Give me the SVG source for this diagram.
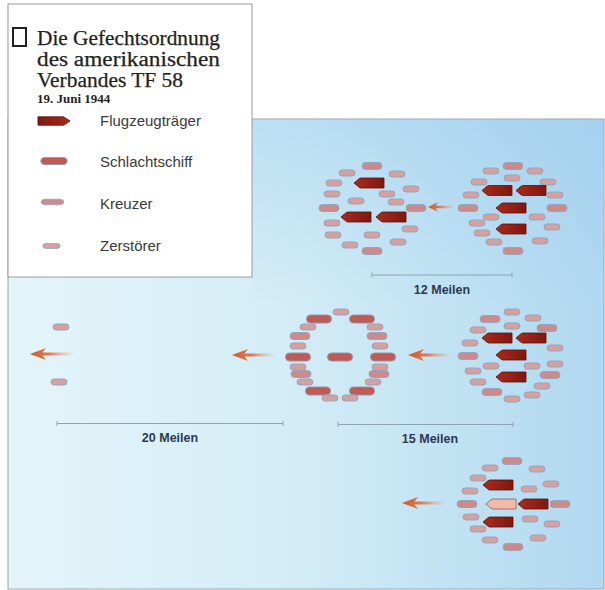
<svg xmlns="http://www.w3.org/2000/svg" width="605" height="590" viewBox="0 0 605 590">
<style>
.sans{font-family:"Liberation Sans",Arial,sans-serif}
.serif{font-family:"Liberation Serif","Times New Roman",serif;fill:#231f20}
.title{font-size:20px;stroke:#231f20;stroke-width:0.25}
.leg{font-size:15px;fill:#3a3a3a}
.scale{font-size:12.5px;font-weight:bold;fill:#2b3a50;text-anchor:middle}
.bar{stroke:#8ea3b6;stroke-width:1;fill:none}
.d{fill:#d6a09f;stroke:#97a5bc;stroke-width:1}
.c{fill:#cb8b8c;stroke:#97a5bc;stroke-width:1}
.b{fill:#c05a54;stroke:#8f95ad;stroke-width:1}
.v{fill:url(#cvg);stroke:#5e100b;stroke-width:0.8}
.vl{fill:#f0bba9;stroke:#9c5c52;stroke-width:0.8}
.arr{fill:url(#arg)}
</style>
<defs>
<linearGradient id="bg" x1="0" y1="0" x2="1" y2="0">
<stop offset="0" stop-color="#e4f5f9"/>
<stop offset="0.5" stop-color="#d2ecf6"/>
<stop offset="1" stop-color="#b0d8f0"/>
</linearGradient>
<linearGradient id="bgv" x1="0" y1="0" x2="0" y2="1">
<stop offset="0" stop-color="#8cc4ec" stop-opacity="0.35"/>
<stop offset="0.4" stop-color="#8cc4ec" stop-opacity="0"/>
</linearGradient>
<linearGradient id="cvg" x1="0" y1="0" x2="1" y2="0">
<stop offset="0" stop-color="#a82a1c"/>
<stop offset="1" stop-color="#801710"/>
</linearGradient>
<linearGradient id="arg" x1="0" y1="0" x2="1" y2="0">
<stop offset="0" stop-color="#d3562a"/>
<stop offset="0.45" stop-color="#dc7446" stop-opacity="0.9"/>
<stop offset="1" stop-color="#f0a878" stop-opacity="0"/>
</linearGradient>
<rect id="sd" x="-8" y="-3" width="16" height="6" rx="3"/>
<rect id="sc" x="-10" y="-3.5" width="20" height="7" rx="3.5"/>
<rect id="sb" x="-12.5" y="-4" width="25" height="8" rx="4"/>
<path id="sv" d="M-15,0 L-10,-4.2 L-8.5,-5 H15 V5 H-8.5 L-10,4.2 Z"/>
<path id="ah" d="M0,0 L16,-6 L12.5,-1.5 L45,-1.5 L45,1.5 L12.5,1.5 L16,6 Z"/>
</defs>

<!-- sea background -->
<rect x="8" y="119" width="596" height="470" fill="url(#bg)" stroke="#9aa6ae" stroke-width="1"/>
<rect x="252" y="119" width="352" height="470" fill="url(#bgv)"/>

<!-- legend -->
<g id="legend">
<rect x="8" y="4" width="244" height="273" fill="#ffffff" stroke="#9a9a9a" stroke-width="1"/>
<rect x="13" y="28" width="13" height="18" fill="none" stroke="#231f20" stroke-width="2"/>
<text class="serif title" x="37" y="45" textLength="183" lengthAdjust="spacingAndGlyphs">Die Gefechtsordnung</text>
<text class="serif title" x="37" y="66" textLength="183" lengthAdjust="spacingAndGlyphs">des amerikanischen</text>
<text class="serif title" x="37" y="87" textLength="146" lengthAdjust="spacingAndGlyphs">Verbandes TF 58</text>
<text class="serif" font-size="13" font-weight="bold" x="37" y="103">19. Juni 1944</text>
<use href="#sv" class="v" transform="translate(54,121) scale(-1.07,0.85)"/>
<text class="sans leg" x="100" y="126">Flugzeugträger</text>
<use href="#sb" class="b" transform="translate(54,161) scale(1.05,0.9)"/>
<text class="sans leg" x="100" y="167">Schlachtschiff</text>
<use href="#sc" class="c" transform="translate(52.5,202) scale(1.1,0.8)"/>
<text class="sans leg" x="100" y="209">Kreuzer</text>
<use href="#sd" class="d" transform="translate(51.5,246) scale(1.05,0.8)"/>
<text class="sans leg" x="100" y="251">Zerstörer</text>
</g>

<!-- formation 1 -->
<g id="formation-1">
<use href="#sc" class="c" x="372" y="166"/>
<use href="#sd" class="d" x="347" y="173"/>
<use href="#sd" class="d" x="397" y="174"/>
<use href="#sd" class="d" x="334" y="183"/>
<use href="#sv" class="v" x="369" y="183"/>
<use href="#sd" class="d" x="332" y="194"/>
<use href="#sd" class="d" x="387" y="194"/>
<use href="#sd" class="d" x="411" y="189"/>
<use href="#sd" class="d" x="356" y="201"/>
<use href="#sd" class="d" x="396" y="202"/>
<use href="#sc" class="c" x="329" y="208"/>
<use href="#sc" class="c" x="416" y="208"/>
<use href="#sv" class="v" x="356" y="217"/>
<use href="#sv" class="v" x="391" y="217"/>
<use href="#sd" class="d" x="332" y="223"/>
<use href="#sd" class="d" x="410" y="229"/>
<use href="#sd" class="d" x="333" y="235"/>
<use href="#sd" class="d" x="372" y="235"/>
<use href="#sd" class="d" x="350" y="245"/>
<use href="#sd" class="d" x="398" y="242"/>
<use href="#sc" class="c" x="372" y="251"/>
</g>

<!-- formation 2 -->
<g id="formation-2">
<use href="#sc" class="c" x="513" y="166"/>
<use href="#sd" class="d" x="491" y="171"/>
<use href="#sd" class="d" x="535" y="171"/>
<use href="#sd" class="d" x="479" y="182"/>
<use href="#sd" class="d" x="512" y="178"/>
<use href="#sd" class="d" x="548" y="182"/>
<use href="#sv" class="v" x="497" y="190.5"/>
<use href="#sv" class="v" x="531" y="190.5"/>
<use href="#sd" class="d" x="471" y="195"/>
<use href="#sd" class="d" x="555" y="195"/>
<use href="#sc" class="c" x="468" y="208"/>
<use href="#sc" class="c" x="557" y="208"/>
<use href="#sv" class="v" x="511" y="208"/>
<use href="#sd" class="d" x="491" y="217"/>
<use href="#sd" class="d" x="537" y="217"/>
<use href="#sd" class="d" x="477" y="223"/>
<use href="#sd" class="d" x="552" y="227"/>
<use href="#sv" class="v" x="511" y="229"/>
<use href="#sd" class="d" x="482" y="233"/>
<use href="#sd" class="d" x="494" y="242"/>
<use href="#sd" class="d" x="540" y="241"/>
<use href="#sc" class="c" x="513" y="251"/>
</g>

<!-- formation 3 (battleships) -->
<g id="formation-3">
<use href="#sd" class="d" x="341" y="312"/>
<use href="#sb" class="b" x="319" y="319"/>
<use href="#sb" class="b" x="362" y="319"/>
<use href="#sd" class="d" x="308" y="327"/>
<use href="#sd" class="d" x="375" y="327"/>
<use href="#sc" class="c" x="300" y="336"/>
<use href="#sc" class="c" x="377" y="336"/>
<use href="#sd" class="d" x="298" y="346"/>
<use href="#sd" class="d" x="380" y="346"/>
<use href="#sb" class="b" x="298" y="357"/>
<use href="#sb" class="b" x="340" y="357"/>
<use href="#sb" class="b" x="383" y="357"/>
<use href="#sd" class="d" x="298" y="367"/>
<use href="#sd" class="d" x="380" y="367"/>
<use href="#sc" class="c" x="301" y="374"/>
<use href="#sc" class="c" x="379" y="374"/>
<use href="#sd" class="d" x="305" y="382"/>
<use href="#sd" class="d" x="373" y="382"/>
<use href="#sb" class="b" x="318" y="391"/>
<use href="#sb" class="b" x="362" y="391"/>
<use href="#sd" class="d" x="330" y="398"/>
<use href="#sd" class="d" x="350" y="398"/>
</g>

<!-- formation 4 -->
<g id="formation-4">
<use href="#sd" class="d" x="512" y="312"/>
<use href="#sc" class="c" x="490" y="319"/>
<use href="#sd" class="d" x="533" y="318"/>
<use href="#sd" class="d" x="478" y="330"/>
<use href="#sd" class="d" x="512" y="326"/>
<use href="#sc" class="c" x="547" y="328"/>
<use href="#sv" class="v" x="497" y="338"/>
<use href="#sv" class="v" x="531" y="338"/>
<use href="#sd" class="d" x="470" y="343"/>
<use href="#sd" class="d" x="555" y="348"/>
<use href="#sc" class="c" x="468" y="356"/>
<use href="#sv" class="v" x="511" y="355"/>
<use href="#sd" class="d" x="491" y="366"/>
<use href="#sd" class="d" x="532" y="366"/>
<use href="#sd" class="d" x="555" y="364"/>
<use href="#sd" class="d" x="473" y="371"/>
<use href="#sc" class="c" x="550" y="375"/>
<use href="#sv" class="v" x="511" y="377"/>
<use href="#sd" class="d" x="478" y="382"/>
<use href="#sd" class="d" x="542" y="386"/>
<use href="#sc" class="c" x="492" y="392"/>
<use href="#sd" class="d" x="532" y="395"/>
<use href="#sd" class="d" x="512" y="399"/>
</g>

<!-- formation 5 -->
<g id="formation-5">
<use href="#sc" class="c" x="512" y="461"/>
<use href="#sd" class="d" x="490" y="468"/>
<use href="#sd" class="d" x="537" y="469"/>
<use href="#sd" class="d" x="478" y="478"/>
<use href="#sv" class="v" x="498" y="485"/>
<use href="#sd" class="d" x="551" y="484"/>
<use href="#sd" class="d" x="470" y="491"/>
<use href="#sd" class="d" x="529" y="489"/>
<use href="#sc" class="c" x="467" y="504"/>
<use href="#sv" class="vl" x="501" y="504"/>
<use href="#sv" class="v" x="533" y="504"/>
<use href="#sc" class="c" x="560" y="504"/>
<use href="#sd" class="d" x="471" y="517"/>
<use href="#sd" class="d" x="530" y="519"/>
<use href="#sv" class="v" x="498" y="522"/>
<use href="#sd" class="d" x="552" y="524"/>
<use href="#sd" class="d" x="478" y="529"/>
<use href="#sd" class="d" x="490" y="540"/>
<use href="#sd" class="d" x="538" y="538"/>
<use href="#sc" class="c" x="513" y="547"/>
</g>

<!-- advance pickets -->
<g id="pickets">
<use href="#sd" class="d" x="61" y="327"/>
<use href="#sd" class="d" x="59" y="382"/>
</g>

<!-- scale bars -->
<g id="scale-12">
<path class="bar" d="M372,275 H512 M372,272.5 V277.5 M512,272.5 V277.5"/>
<text class="sans scale" x="442" y="294">12 Meilen</text>
</g>
<g id="scale-20">
<path class="bar" d="M57,423.5 H283 M57,421 V426 M283,421 V426"/>
<text class="sans scale" x="170" y="442">20 Meilen</text>
</g>
<g id="scale-15">
<path class="bar" d="M338,424.5 H513 M338,422 V427 M513,422 V427"/>
<text class="sans scale" x="430" y="443">15 Meilen</text>
</g>

<!-- direction arrows -->
<g id="connectors">
<use href="#ah" class="arr" transform="translate(428,207) scale(0.62,0.8)"/>
<use href="#ah" class="arr" x="30" y="354"/>
<use href="#ah" class="arr" x="232" y="355"/>
<use href="#ah" class="arr" x="408" y="355"/>
<use href="#ah" class="arr" x="402" y="503"/>
</g>
</svg>
